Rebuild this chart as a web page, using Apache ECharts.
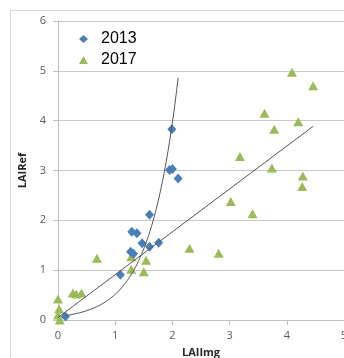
<!DOCTYPE html>
<html>
<head>
<meta charset="utf-8">
<script src="https://cdn.jsdelivr.net/npm/echarts@6/dist/echarts.min.js"></script>
<style>
  html, body { margin: 0; padding: 0; background: #fff; overflow: hidden; }
  #chart { width: 344px; height: 358px; }
</style>
</head>
<body>
<div id="chart"></div>
<script>
// LAI measured from images (LAIImg) against reference LAI (LAIRef)
const x2013 = [0.13, 1.09, 1.27, 1.32, 1.29, 1.38, 1.47, 1.60, 1.60, 1.76, 1.95, 2.00, 1.99, 2.10];
const y2013 = [0.07, 0.91, 1.37, 1.33, 1.77, 1.74, 1.54, 2.11, 1.47, 1.55, 3.01, 3.03, 3.83, 2.84];

const x2017 = [0.00, 0.02, 0.00, 0.03, 0.26, 0.32, 0.41, 0.68, 1.28, 1.28, 1.50, 1.54, 2.30, 2.81,
               3.02, 3.18, 3.40, 3.61, 3.74, 3.78, 4.09, 4.20, 4.27, 4.28, 4.46];
const y2017 = [0.42, 0.22, 0.10, 0.00, 0.54, 0.52, 0.54, 1.24, 1.27, 1.02, 0.97, 1.20, 1.44, 1.34,
               2.38, 3.28, 2.13, 4.15, 3.05, 3.83, 4.97, 3.98, 2.68, 2.89, 4.70];

const seriesNames = ['2013', '2017'];
const xTicks = [0, 1, 2, 3, 4, 5];
const yTicks = [0, 1, 2, 3, 4, 5, 6];

// Trend lines: exponential fit for 2013, linear fit for 2017
const expFit2013 = { a: 0.067, b: 2.04 };
const linFit2017 = { slope: 0.86, intercept: 0.05 };

const pts2013 = x2013.map((x, i) => [x, y2013[i]]);
const pts2017 = x2017.map((x, i) => [x, y2017[i]]);

function expCurve(x0, x1, steps) {
  const out = [];
  for (let i = 0; i <= steps; i++) {
    const x = x0 + (x1 - x0) * i / steps;
    out.push([x, expFit2013.a * Math.exp(expFit2013.b * x)]);
  }
  return out;
}
const trend2013 = expCurve(Math.min(...x2013), Math.max(...x2013), 80);
const xMin17 = Math.min(...x2017), xMax17 = Math.max(...x2017);
const trend2017 = [
  [xMin17, linFit2017.intercept + linFit2017.slope * xMin17],
  [xMax17, linFit2017.intercept + linFit2017.slope * xMax17]
];

const BLUE = '#4a7ebb';
const GREEN = '#9bbb59';
const labelFont = { color: '#595959', fontSize: 11, fontFamily: 'Open Sans, Liberation Sans, sans-serif' };

const chart = echarts.init(document.getElementById('chart'), null, { renderer: 'canvas', width: 344, height: 358 });
chart.setOption({
  animation: false,
  backgroundColor: '#fff',
  graphic: [{
    type: 'rect',
    shape: { x: 10.5, y: 10.5, width: 400, height: 400 },
    style: { fill: 'none', stroke: '#d9d9d9', lineWidth: 1 },
    silent: true, z: -1
  }],
  legend: {
    orient: 'vertical',
    left: 74,
    top: 26,
    itemWidth: 9,
    itemHeight: 8,
    itemGap: 5,
    textStyle: { fontSize: 16, color: '#000', fontFamily: 'Liberation Sans, Arial, sans-serif', lineHeight: 16, padding: [0, 0, 0, 8] },
    data: [
      { name: seriesNames[0], icon: 'diamond', itemStyle: { color: BLUE } },
      { name: seriesNames[1], icon: 'triangle', itemStyle: { color: GREEN } }
    ]
  },
  grid: { left: 58, top: 21, right: 0, bottom: 38, containLabel: false, outerBoundsMode: 'none' },
  xAxis: {
    type: 'value',
    min: xTicks[0], max: xTicks[xTicks.length - 1], interval: 1,
    name: 'LAIImg', nameLocation: 'middle', nameGap: 27,
    nameTextStyle: { fontSize: 11, fontWeight: 'bold', color: '#262626', fontFamily: 'Open Sans, Liberation Sans, sans-serif' },
    axisLine: { show: true, onZero: false, lineStyle: { color: '#bfbfbf' } },
    axisTick: { show: true, length: 5, lineStyle: { color: '#bfbfbf' } },
    axisLabel: Object.assign({ margin: 10 }, labelFont),
    splitLine: { show: false }
  },
  yAxis: {
    type: 'value',
    min: yTicks[0], max: yTicks[yTicks.length - 1], interval: 1,
    name: 'LAIRef', nameLocation: 'middle', nameGap: 29,
    nameTextStyle: { fontSize: 11, fontWeight: 'bold', color: '#262626', fontFamily: 'Open Sans, Liberation Sans, sans-serif' },
    axisLine: { show: true, lineStyle: { color: '#bfbfbf' } },
    axisTick: { show: true, length: 5, lineStyle: { color: '#bfbfbf' } },
    axisLabel: Object.assign({ margin: 12 }, labelFont),
    splitLine: { show: true, lineStyle: { color: '#c8c8c8', width: 1 } }
  },
  series: [
    {
      name: seriesNames[0], type: 'scatter', data: pts2013,
      symbol: 'diamond', symbolSize: [9, 10],
      itemStyle: { color: BLUE, opacity: 1 }, z: 3
    },
    {
      name: seriesNames[1], type: 'scatter', data: pts2017,
      symbol: 'triangle', symbolSize: [10, 9],
      itemStyle: { color: GREEN, opacity: 1 }, z: 2
    },
    {
      name: 'trend2013', type: 'line', data: trend2013, showSymbol: false, smooth: false,
      lineStyle: { color: '#555', width: 1 }, z: 4, silent: true
    },
    {
      name: 'trend2017', type: 'line', data: trend2017, showSymbol: false,
      lineStyle: { color: '#555', width: 1 }, z: 4, silent: true
    }
  ]
});
</script>
</body>
</html>
